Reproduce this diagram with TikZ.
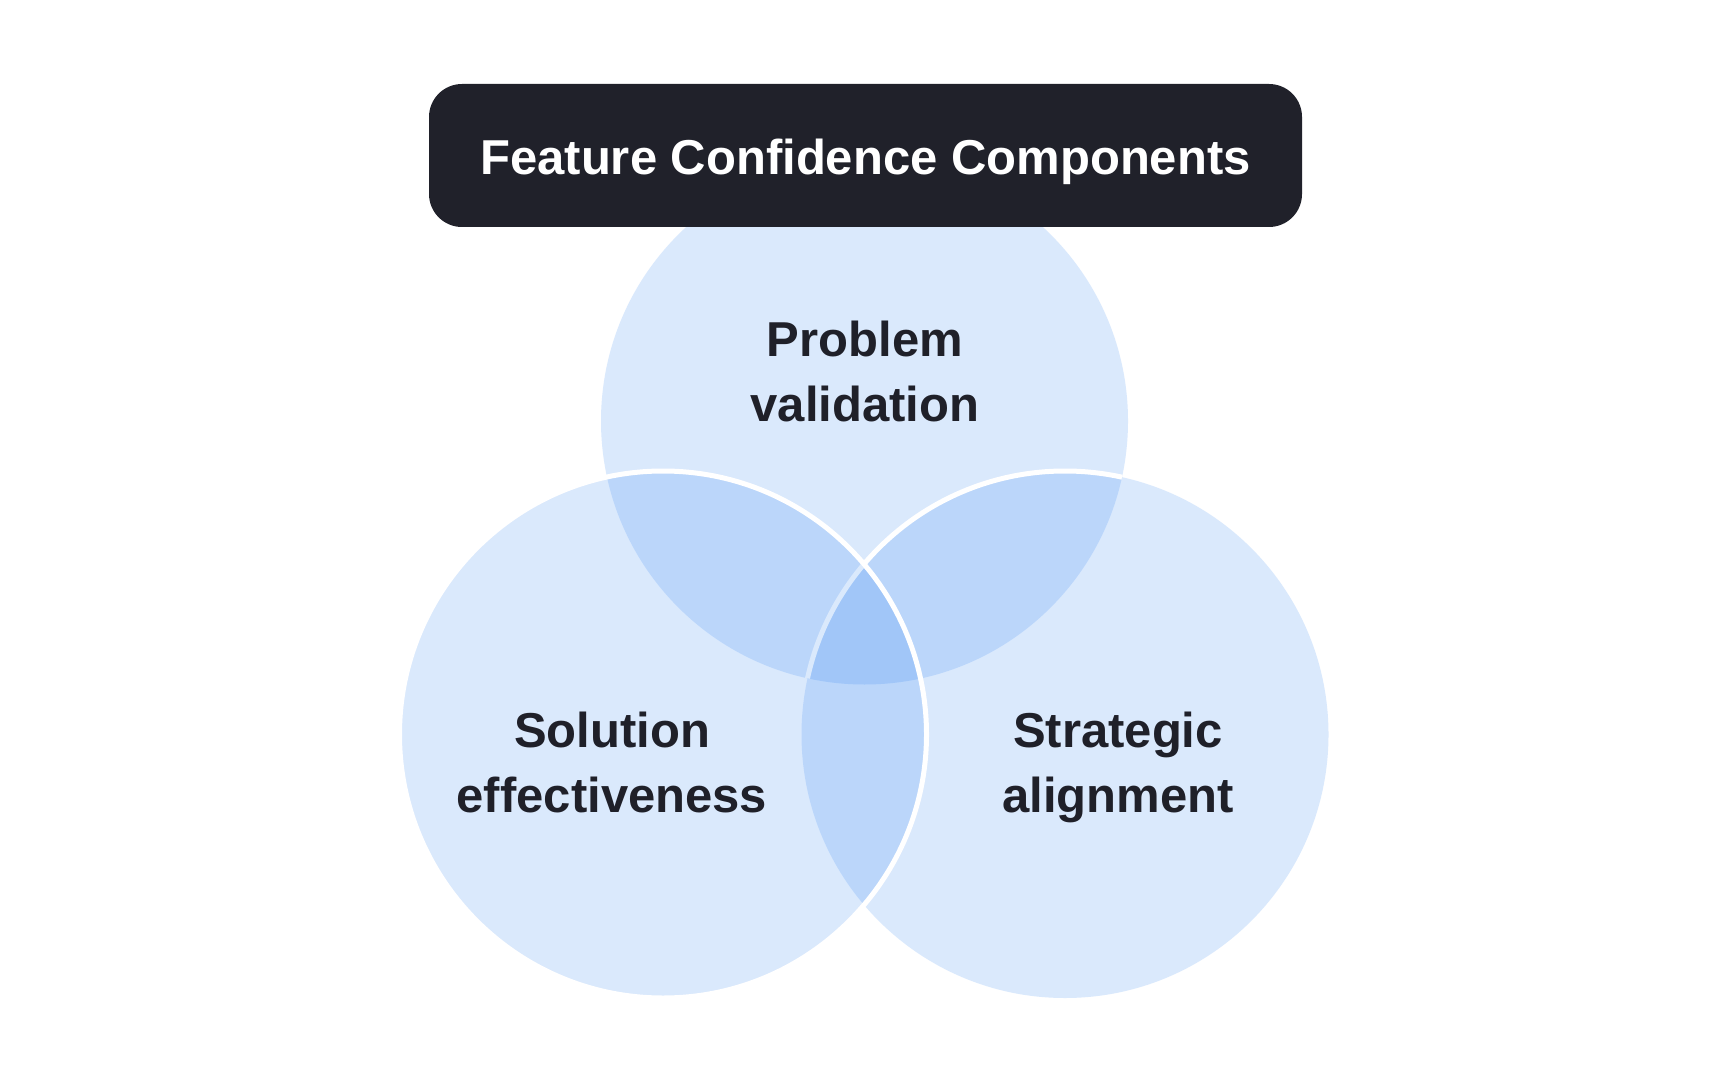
\documentclass[tikz,border=0pt]{standalone}
\usepackage{fontspec}
\setmainfont{Liberation Sans}
\definecolor{venn}{RGB}{26,120,242}
\definecolor{ink}{HTML}{1F2029}
\definecolor{titlebg}{HTML}{20212A}
\begin{document}
\begin{tikzpicture}[x=0.5pt,y=-0.5pt,
  vennfill/.style={fill=venn, fill opacity=0.16},
  vennline/.style={draw=white, line width=2.5pt},
  vlabel/.style={font=\bfseries\fontsize{24.5}{32.5}\selectfont, text=ink, align=center, anchor=base, inner sep=0pt},
  titlebox/.style={fill=titlebg, text=white, rounded corners=16.5pt, minimum width=436.5pt, minimum height=71.5pt,
    font=\bfseries\fontsize{24.5}{30}\selectfont, text height=19.5pt, text depth=0pt, inner sep=0pt}]
\useasboundingbox[fill=white] (0,0) rectangle (1728,1080);
\coordinate (ct) at (864.5,421);
\coordinate (cl) at (663,734.5);
\coordinate (cr) at (1065,734.5);
\fill[vennfill] (ct) circle[radius=131.75pt];
\fill[vennfill] (cr) circle[radius=131.75pt];
\begin{scope}
  \clip (ct) circle[radius=131.75pt];
  \draw[vennline] (cr) circle[radius=131.75pt];
\end{scope}
\fill[vennfill] (cl) circle[radius=131.75pt];
\draw[vennline] (cl) circle[radius=131.75pt];
\node[vlabel] (prob) at (865,422) {Problem\\validation};
\node[vlabel] (sol) at (612,812) {Solution\\effectiveness};
\node[vlabel] (strat) at (1118,812) {Strategic\\alignment};
\node[titlebox] (title) at (865.5,155.5) {Feature Confidence Components};
\end{tikzpicture}
\end{document}
